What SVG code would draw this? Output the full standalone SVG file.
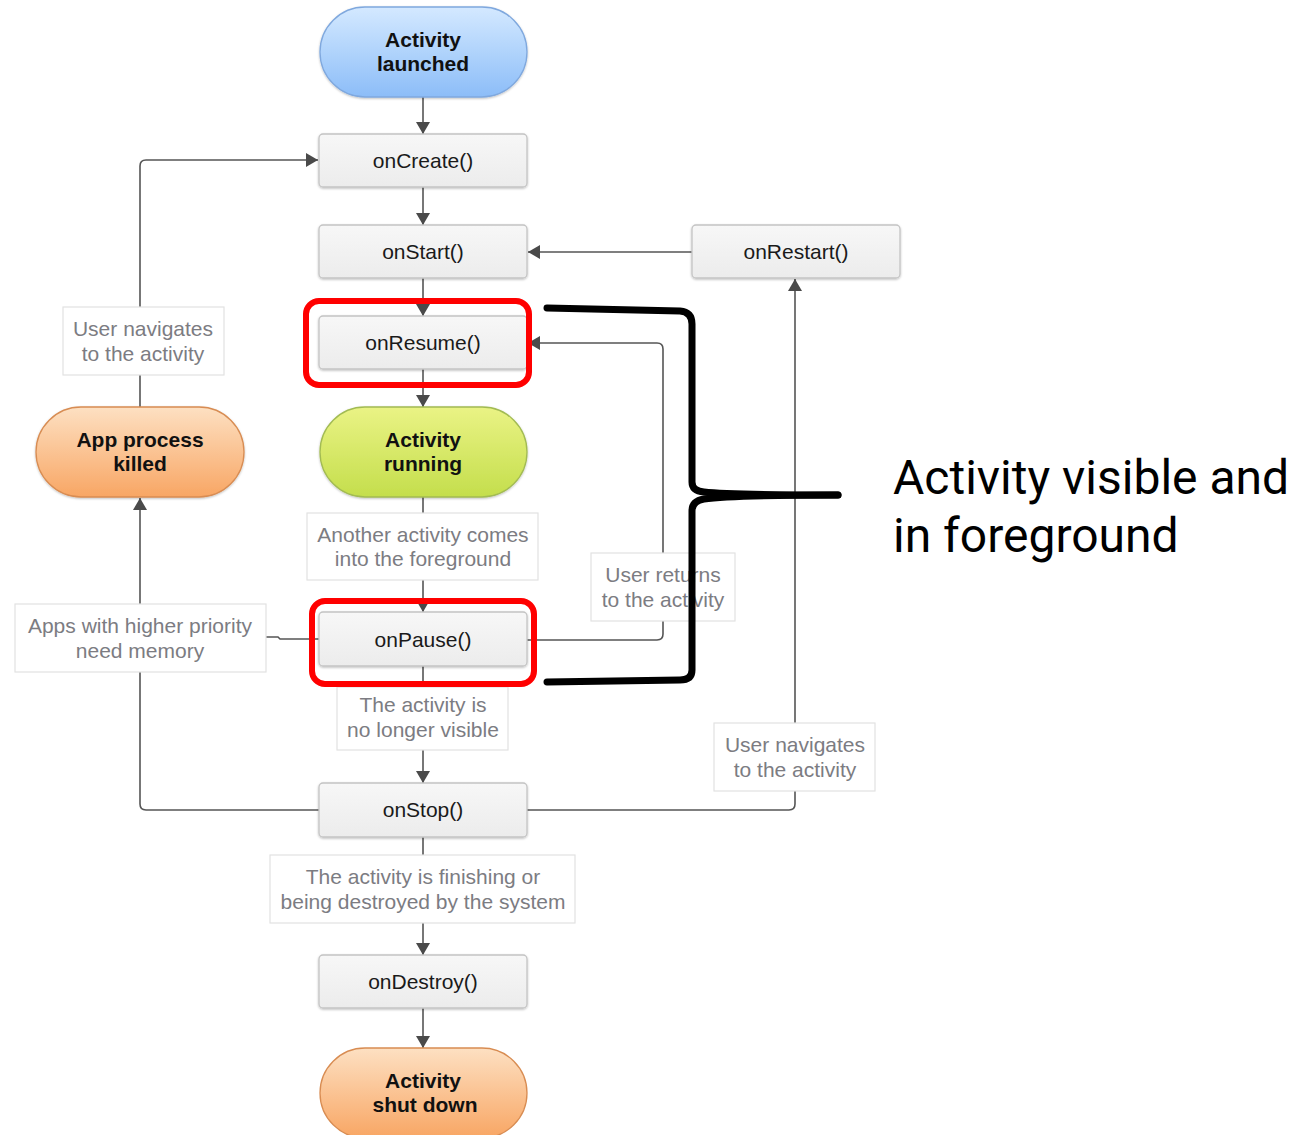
<svg xmlns="http://www.w3.org/2000/svg" width="1310" height="1135" viewBox="0 0 1310 1135">
  <style>
    .box { fill: url(#gBox); stroke: #c4c4c4; stroke-width: 1.3; filter: url(#shadow); }
    .mtxt { font-family: "Liberation Sans", Arial, sans-serif; font-size: 21px; fill: #1a1a1a; text-anchor: middle; }
    .ptxt { font-family: "Liberation Sans", Arial, sans-serif; font-size: 21px; font-weight: bold; fill: #111; text-anchor: middle; }
    .lbl { fill: #ffffff; stroke: #e2e2e2; stroke-width: 1.2; }
    .ltxt { font-family: "Liberation Sans", Arial, sans-serif; font-size: 21px; fill: #7c7c82; text-anchor: middle; }
    .conn { fill: none; stroke: #555555; stroke-width: 1.6; }
    .hl { fill: none; stroke: #ff0000; stroke-width: 6; }
    .brace { fill: none; stroke: #000000; stroke-width: 7; stroke-linecap: round; stroke-linejoin: round; }
    .note { font-family: Roboto, "Noto Sans", sans-serif; font-size: 48px; fill: #000000; }
  </style>
  <defs>
    <linearGradient id="gBox" x1="0" y1="0" x2="0" y2="1">
      <stop offset="0" stop-color="#f7f7f7"/>
      <stop offset="1" stop-color="#ececec"/>
    </linearGradient>
    <linearGradient id="gBlue" x1="0" y1="0" x2="0" y2="1">
      <stop offset="0" stop-color="#d4e9ff"/>
      <stop offset="1" stop-color="#8cbdf8"/>
    </linearGradient>
    <linearGradient id="gGreen" x1="0" y1="0" x2="0" y2="1">
      <stop offset="0" stop-color="#eaf385"/>
      <stop offset="1" stop-color="#c4de4c"/>
    </linearGradient>
    <linearGradient id="gOrange" x1="0" y1="0" x2="0" y2="1">
      <stop offset="0" stop-color="#fde0c2"/>
      <stop offset="1" stop-color="#f8a664"/>
    </linearGradient>
    <filter id="shadow" x="-10%" y="-10%" width="120%" height="130%">
      <feDropShadow dx="0" dy="1" stdDeviation="1" flood-color="#000" flood-opacity="0.25"/>
    </filter>
    <marker id="arr" markerUnits="userSpaceOnUse" markerWidth="12" markerHeight="14" refX="12" refY="7" orient="auto">
      <path d="M0,0 L12,7 L0,14 z" fill="#4a4a4a"/>
    </marker>
  </defs>

  <rect width="1310" height="1135" fill="#ffffff"/>

  <!-- connectors -->
  <g id="connectors">
    <path class="conn" d="M423,97 V134" marker-end="url(#arr)"/>
    <path class="conn" d="M423,187 V225" marker-end="url(#arr)"/>
    <path class="conn" d="M423,278 V316" marker-end="url(#arr)"/>
    <path class="conn" d="M423,369 V407" marker-end="url(#arr)"/>
    <path class="conn" d="M423,497 V612" marker-end="url(#arr)"/>
    <path class="conn" d="M423,666 V783" marker-end="url(#arr)"/>
    <path class="conn" d="M423,837 V955" marker-end="url(#arr)"/>
    <path class="conn" d="M423,1008 V1048" marker-end="url(#arr)"/>
    <path class="conn" d="M692,252 H528" marker-end="url(#arr)"/>
    <path class="conn" d="M527,810 H789 Q795,810 795,804 V279" marker-end="url(#arr)"/>
    <path class="conn" d="M527,640 H657 Q663,640 663,634 V349 Q663,343 657,343 H528" marker-end="url(#arr)"/>
    <path class="conn" d="M319,810 H146 Q140,810 140,804 V498" marker-end="url(#arr)"/>
    <path class="conn" d="M319,639 H280 L278,637 H260"/>
    <path class="conn" d="M140,407 V166 Q140,160 146,160 H318" marker-end="url(#arr)"/>
  </g>

  <!-- lifecycle states and callbacks -->
  <g id="activity-launched">
    <rect x="320" y="7" width="207" height="90" rx="45" fill="url(#gBlue)" stroke="#7fa8de" stroke-width="1.3" filter="url(#shadow)"/>
    <text class="ptxt" x="423" y="47">Activity</text>
    <text class="ptxt" x="423" y="71">launched</text>
  </g>
  <g id="onCreate">
    <rect class="box" x="319" y="134" width="208" height="53" rx="4"/>
    <text class="mtxt" x="423" y="168">onCreate()</text>
  </g>
  <g id="onStart">
    <rect class="box" x="319" y="225" width="208" height="53" rx="4"/>
    <text class="mtxt" x="423" y="259">onStart()</text>
  </g>
  <g id="onRestart">
    <rect class="box" x="692" y="225" width="208" height="53" rx="4"/>
    <text class="mtxt" x="796" y="259">onRestart()</text>
  </g>
  <g id="onResume">
    <rect class="box" x="319" y="316" width="208" height="53" rx="4"/>
    <text class="mtxt" x="423" y="350">onResume()</text>
  </g>
  <g id="activity-running">
    <rect x="320" y="407" width="207" height="90" rx="45" fill="url(#gGreen)" stroke="#a2bb52" stroke-width="1.3" filter="url(#shadow)"/>
    <text class="ptxt" x="423" y="447">Activity</text>
    <text class="ptxt" x="423" y="471">running</text>
  </g>
  <g id="app-process-killed">
    <rect x="36" y="407" width="208" height="90" rx="45" fill="url(#gOrange)" stroke="#d88c52" stroke-width="1.3" filter="url(#shadow)"/>
    <text class="ptxt" x="140" y="447">App process</text>
    <text class="ptxt" x="140" y="471">killed</text>
  </g>
  <g id="onPause">
    <rect class="box" x="319" y="612" width="208" height="54" rx="4"/>
    <text class="mtxt" x="423" y="647">onPause()</text>
  </g>
  <g id="onStop">
    <rect class="box" x="319" y="783" width="208" height="54" rx="4"/>
    <text class="mtxt" x="423" y="817">onStop()</text>
  </g>
  <g id="onDestroy">
    <rect class="box" x="319" y="955" width="208" height="53" rx="4"/>
    <text class="mtxt" x="423" y="989">onDestroy()</text>
  </g>
  <g id="activity-shut-down">
    <rect x="320" y="1048" width="207" height="90" rx="45" fill="url(#gOrange)" stroke="#d88c52" stroke-width="1.3"/>
    <text class="ptxt" x="423" y="1088">Activity</text>
    <text class="ptxt" x="425" y="1112">shut down</text>
  </g>

  <!-- transition labels -->
  <g id="label-user-navigates-left">
    <rect class="lbl" x="63" y="307" width="161" height="68"/>
    <text class="ltxt" x="143" y="336">User navigates</text>
    <text class="ltxt" x="143" y="361">to the activity</text>
  </g>
  <g id="label-another-activity">
    <rect class="lbl" x="307" y="513" width="231" height="67"/>
    <text class="ltxt" x="423" y="542">Another activity comes</text>
    <text class="ltxt" x="423" y="566">into the foreground</text>
  </g>
  <g id="label-user-returns">
    <rect class="lbl" x="591" y="553" width="144" height="68"/>
    <text class="ltxt" x="663" y="582">User returns</text>
    <text class="ltxt" x="663" y="607">to the activity</text>
  </g>
  <g id="label-higher-priority">
    <rect class="lbl" x="15" y="604" width="251" height="68"/>
    <text class="ltxt" x="140" y="633">Apps with higher priority</text>
    <text class="ltxt" x="140" y="658">need memory</text>
  </g>
  <g id="label-no-longer-visible">
    <rect class="lbl" x="337" y="687" width="171" height="63"/>
    <text class="ltxt" x="423" y="712">The activity is</text>
    <text class="ltxt" x="423" y="737">no longer visible</text>
  </g>
  <g id="label-user-navigates-right">
    <rect class="lbl" x="714" y="723" width="161" height="68"/>
    <text class="ltxt" x="795" y="752">User navigates</text>
    <text class="ltxt" x="795" y="777">to the activity</text>
  </g>
  <g id="label-finishing">
    <rect class="lbl" x="270" y="855" width="305" height="68"/>
    <text class="ltxt" x="423" y="884">The activity is finishing or</text>
    <text class="ltxt" x="423" y="909">being destroyed by the system</text>
  </g>

  <!-- highlight frames -->
  <g id="highlight-onResume">
    <rect class="hl" x="306" y="301" width="223" height="84" rx="13"/>
  </g>
  <g id="highlight-onPause">
    <rect class="hl" x="312" y="601" width="222" height="83" rx="13"/>
  </g>

  <!-- brace with note -->
  <g id="foreground-brace">
    <path class="brace" d="M547,308 L680,311 Q692,312 692,324 L692,482 Q692,491 704,492 Q730,495 838,495"/>
    <path class="brace" d="M838,495 Q730,495 704,499 Q692,501 692,511 L692,670 Q692,680 680,680 L547,682"/>
    <text class="note" x="893" y="494">Activity visible and</text>
    <text class="note" x="893" y="552">in foreground</text>
  </g>
</svg>
